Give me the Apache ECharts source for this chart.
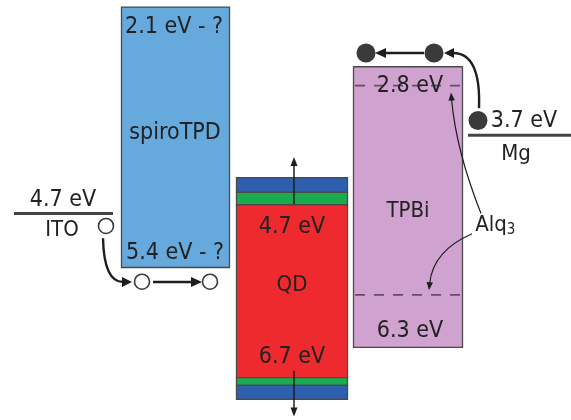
<!DOCTYPE html>
<html><head><meta charset="utf-8">
<script src="https://cdn.jsdelivr.net/npm/echarts@6/dist/echarts.min.js"></script>
<style>html,body{margin:0;padding:0;background:#fff}#c{width:571px;height:420px}</style>
</head><body><div id="c"></div>
<script>
// ---- Energy data (eV below vacuum) ----
const boxNames = ['spiroTPD', 'QD', 'TPBi'];
const boxTop = [2.05, 4.25, 2.82];
const boxBottom = [5.41, 7.11, 6.44];
// QD core/shell layers (outer shell, inner shell, core, inner shell, outer shell)
const qdLayerTop = [4.25, 4.44, 4.60, 6.83, 6.93];
const qdLayerBottom = [4.44, 4.60, 6.83, 6.93, 7.11];
const electrodeNames = ['ITO', 'Mg'];
const electrodeLevels = [4.72, 3.71];
const tpbiDashLevels = [3.07, 5.77];          // TPBi LUMO marker, Alq3 HOMO
const holeLevels = [4.88, 5.60, 5.60];        // ITO hole, spiroTPD HOMO holes
const electronLevels = [2.65, 2.65, 3.52];    // TPBi LUMO electrons, Mg electron
const levelLabels = ['2.1 eV - ?', 'spiroTPD', '5.4 eV - ?', '4.7 eV', 'QD', '6.7 eV',
                     '2.8 eV', 'TPBi', '6.3 eV', '4.7 eV', 'ITO', '3.7 eV', 'Mg'];
const levelLabelE = [2.31, 3.68, 5.23, 4.90, 5.65, 6.57, 3.07, 4.69, 6.24, 4.55, 4.94, 3.53, 3.96];

// ---- Layout (x in page units) & styles ----
const boxX = [[121, 229], [236, 347], [353, 462]];
const boxFill = ['#66a9dd', null, '#d0a2d0'];
const qdFill = ['#2d5fae', '#1aab4e', '#ee2a2f', '#1aab4e', '#2d5fae'];
const electrodeX = [[14, 113], [468, 571]];
const holeX = [106, 142, 210];
const electronX = [366, 434, 478];
const labelX = [174, 175, 175, 292, 292, 292, 410, 408, 410, 63, 62, 524, 516];
const labelSize = [23, 23, 23, 23, 22, 23, 23, 22, 23, 23, 22, 23, 22];
const TXT = '#222222';
const FONT = 'DejaVu Sans Condensed';

// arrows: [x1,E1, cx,cE, x2,E2, lineWidth, headLen, headHalfWidth]
const arrows = [
  [103, 5.04, 104, 5.604, 132, 5.604, 2.4, 10, 5],
  [153, 5.604, 177, 5.604, 202, 5.604, 2.4, 11, 5],
  [424, 2.649, 400, 2.649, 375, 2.649, 2.4, 11, 5],
  [479, 3.36, 481, 2.649, 444, 2.649, 2.4, 10, 5],
  [294, 4.60, 294, 4.30, 294, 3.99, 1.5, 9, 3.5],
  [294, 6.75, 294, 7.05, 294, 7.34, 1.5, 9, 3.5],
  [481, 4.72, 456, 3.90, 451, 3.16, 1.2, 8, 3.2],
  [472, 4.98, 433, 5.20, 429, 5.71, 1.2, 8, 3.2]
];

const chart = echarts.init(document.getElementById('c'), null, {renderer: 'canvas'});

function boxItems() {
  const d = [];
  [0, 2].forEach(i => d.push([boxX[i][0], boxX[i][1], boxTop[i], boxBottom[i], boxFill[i]]));
  qdLayerTop.forEach((t, j) => d.push([boxX[1][0], boxX[1][1], t, qdLayerBottom[j], qdFill[j]]));
  return d;
}

const option = {
  animation: false,
  grid: {left: 0, right: 0, top: 0, bottom: 0},
  xAxis: {type: 'value', min: 0, max: 571, show: false},
  yAxis: {type: 'value', min: 1.965, max: 7.384, inverse: true, show: false},
  series: [
    {
      type: 'custom',
      data: boxItems(),
      renderItem: (params, api) => {
        const d = boxItems()[params.dataIndex];
        const p0 = api.coord([api.value(0), api.value(2)]);
        const p1 = api.coord([api.value(1), api.value(3)]);
        return {type: 'rect', shape: {x: p0[0] + 0.5, y: p0[1] + 0.5, width: p1[0] - p0[0], height: p1[1] - p0[1]},
          style: {fill: d[4], stroke: '#4a4a4a', lineWidth: 1.3}};
      },
      z: 1
    },
    {
      type: 'custom',
      data: tpbiDashLevels.map(e => [boxX[2][0], boxX[2][1], e]),
      renderItem: (params, api) => {
        const p0 = api.coord([api.value(0), api.value(2)]);
        const p1 = api.coord([api.value(1), api.value(2)]);
        return {type: 'line', shape: {x1: p0[0] + 2, y1: p0[1], x2: p1[0], y2: p1[1]},
          style: {stroke: '#6b4a6b', lineWidth: 1.7, lineDash: [10, 9]}};
      },
      z: 2
    },
    {
      type: 'custom',
      data: electrodeLevels.map((e, i) => [electrodeX[i][0], electrodeX[i][1], e]),
      renderItem: (params, api) => {
        const p0 = api.coord([api.value(0), api.value(2)]);
        const p1 = api.coord([api.value(1), api.value(2)]);
        return {type: 'line', shape: {x1: p0[0], y1: p0[1], x2: p1[0], y2: p1[1]},
          style: {stroke: '#444444', lineWidth: 3}};
      },
      z: 2
    },
    {
      type: 'custom',
      data: arrows,
      renderItem: (params, api) => {
        const a = arrows[params.dataIndex];
        const s = api.coord([a[0], a[1]]), c = api.coord([a[2], a[3]]), e = api.coord([a[4], a[5]]);
        let dx = e[0] - c[0], dy = e[1] - c[1];
        const L = Math.hypot(dx, dy); dx /= L; dy /= L;
        const bx = e[0] - dx * a[7], by = e[1] - dy * a[7];
        const nx = -dy, ny = dx;
        return {type: 'group', children: [
          {type: 'bezierCurve', shape: {x1: s[0], y1: s[1], cpx1: c[0], cpy1: c[1], x2: bx + dx, y2: by + dy},
            style: {stroke: '#1e1e1e', lineWidth: a[6], fill: null}},
          {type: 'polygon', shape: {points: [[e[0], e[1]], [bx + nx * a[8], by + ny * a[8]], [bx - nx * a[8], by - ny * a[8]]]},
            style: {fill: '#1e1e1e'}}
        ]};
      },
      z: 3
    },
    {
      type: 'scatter',
      data: holeLevels.map((e, i) => [holeX[i], e]),
      symbol: 'circle', symbolSize: 15,
      itemStyle: {color: '#ffffff', borderColor: '#3a3a3a', borderWidth: 1.6, opacity: 1},
      z: 4
    },
    {
      type: 'scatter',
      data: electronLevels.map((e, i) => [electronX[i], e]),
      symbol: 'circle', symbolSize: 19,
      itemStyle: {color: '#3a3a3a', opacity: 1},
      z: 4
    },
    {
      type: 'custom',
      data: levelLabels.map((t, i) => [labelX[i], levelLabelE[i]]),
      renderItem: (params, api) => {
        const p = api.coord([api.value(0), api.value(1)]);
        return {type: 'text', x: p[0], y: p[1],
          style: {text: levelLabels[params.dataIndex], fill: TXT, fontSize: labelSize[params.dataIndex], fontFamily: FONT,
            align: 'center', verticalAlign: 'middle'}};
      },
      z: 5
    },
    {
      type: 'custom',
      data: [[495, 4.87]],
      renderItem: (params, api) => {
        const p = api.coord([api.value(0), api.value(1)]);
        return {type: 'group', children: [
          {type: 'text', x: p[0] - 4, y: p[1], style: {text: 'Alq', fill: TXT, fontSize: 22, fontFamily: FONT, align: 'center', verticalAlign: 'middle'}},
          {type: 'text', x: p[0] + 16, y: p[1] + 5, style: {text: '3', fill: TXT, fontSize: 15, fontFamily: FONT, align: 'center', verticalAlign: 'middle'}}
        ]};
      },
      z: 5
    }
  ]
};
chart.setOption(option);
</script>
</body></html>
